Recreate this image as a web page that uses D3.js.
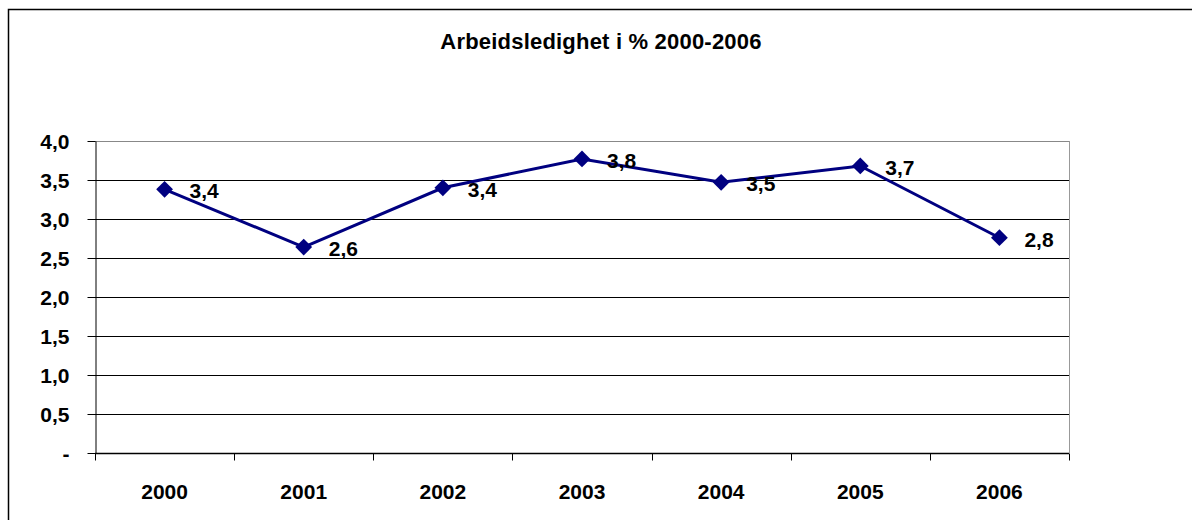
<!DOCTYPE html>
<meta charset="utf-8">
<style>
  body { margin: 0; background: #fff; }
  svg { display: block; }
  text { font-family: "Liberation Sans", Arial, sans-serif; font-weight: bold; }
</style>
<script src="https://d3js.org/d3.v7.min.js"></script>
<div id="chart"></div>
<script>

// data
var years = ["2000", "2001", "2002", "2003", "2004", "2005", "2006"];
var values = [3.38, 2.64, 3.40, 3.77, 3.47, 3.68, 2.76];
var yTicks = [0, 0.5, 1.0, 1.5, 2.0, 2.5, 3.0, 3.5, 4.0];

var W = 1192, H = 520;
var margin = {top: 141, left: 95, right: 123, bottom: 67};
var width = W - margin.left - margin.right,
    height = H - margin.top - margin.bottom;

var svg = d3.select("#chart").append("svg")
    .attr("width", W)
    .attr("height", H);

// outer chart frame (runs past the right and bottom edges)
svg.append("rect")
    .attr("x", 8.5).attr("y", 9.5)
    .attr("width", W + 20).attr("height", H + 20)
    .attr("fill", "none").attr("stroke", "#000").attr("stroke-width", 1.5);

svg.append("text")
    .attr("x", 601).attr("y", 49)
    .attr("text-anchor", "middle")
    .style("font-size", "22px")
    .style("letter-spacing", "0.2px")
    .text("Arbeidsledighet i % 2000-2006");

var g = svg.append("g")
    .attr("transform", "translate(" + margin.left + "," + margin.top + ")");

var x = d3.scaleBand().domain(years).range([0, width]);
var y = d3.scaleLinear().domain([0, 4]).range([height, 0]);

// gridlines
g.selectAll(".grid")
  .data(yTicks.filter(function(d) { return d > 0; }))
  .enter().append("line")
    .attr("x1", 0).attr("x2", width)
    .attr("y1", function(d) { return Math.round(y(d)) + 0.5; })
    .attr("y2", function(d) { return Math.round(y(d)) + 0.5; })
    .attr("stroke", function(d) { return d === 4 ? "#888" : "#000"; })
    .attr("stroke-width", 1);

// right plot border
g.append("line")
    .attr("x1", width + 0.5).attr("x2", width + 0.5)
    .attr("y1", 0).attr("y2", height)
    .attr("stroke", "#999");

// y axis
var yAxis = g.append("g")
    .attr("transform", "translate(0.5,0)")
    .call(d3.axisLeft(y).tickValues(yTicks).tickSize(8).tickSizeOuter(0)
      .tickFormat(function(d) { return d === 0 ? "-" : d3.format(".1f")(d).replace(".", ","); }));
yAxis.select(".domain").attr("stroke", "#000");
yAxis.selectAll("text")
    .style("font-size", "21px")
    .attr("fill", "#000")
    .attr("x", -26)
    .attr("dy", "0.36em");

// x axis with ticks between categories
var xAxis = g.append("g")
    .attr("transform", "translate(0," + (height + 0.5) + ")");
xAxis.append("line")
    .attr("x1", 0).attr("x2", width)
    .attr("stroke", "#000").attr("stroke-width", 1.5);
xAxis.selectAll(".tick")
  .data(years.concat(["end"]))
  .enter().append("line")
    .attr("x1", function(d, i) { return Math.round(i * x.step()) + 0.5; })
    .attr("x2", function(d, i) { return Math.round(i * x.step()) + 0.5; })
    .attr("y1", 0).attr("y2", 7)
    .attr("stroke", "#000");
xAxis.selectAll(".lab")
  .data(years)
  .enter().append("text")
    .attr("x", function(d) { return x(d) + x.bandwidth() / 2; })
    .attr("y", 45)
    .attr("text-anchor", "middle")
    .style("font-size", "21px")
    .text(function(d) { return d; });

// line
var pts = years.map(function(d, i) { return {year: d, value: values[i]}; });
var line = d3.line()
    .x(function(d) { return x(d.year) + x.bandwidth() / 2; })
    .y(function(d) { return y(d.value); });

g.append("path")
    .datum(pts)
    .attr("d", line)
    .attr("fill", "none")
    .attr("stroke", "#000080")
    .attr("stroke-width", 3);

g.selectAll(".pt")
  .data(pts)
  .enter().append("path")
    .attr("d", d3.symbol().type(d3.symbolDiamond2).size(180))
    .attr("transform", function(d) {
      return "translate(" + (x(d.year) + x.bandwidth() / 2) + "," + y(d.value) + ")";
    })
    .attr("fill", "#000080");

g.selectAll(".val")
  .data(pts)
  .enter().append("text")
    .attr("x", function(d) { return x(d.year) + x.bandwidth() / 2 + 25; })
    .attr("y", function(d) { return y(d.value) + 9; })
    .style("font-size", "21px")
    .attr("fill", "#000")
    .text(function(d) { return d3.format(".1f")(d.value).replace(".", ","); });

</script>
